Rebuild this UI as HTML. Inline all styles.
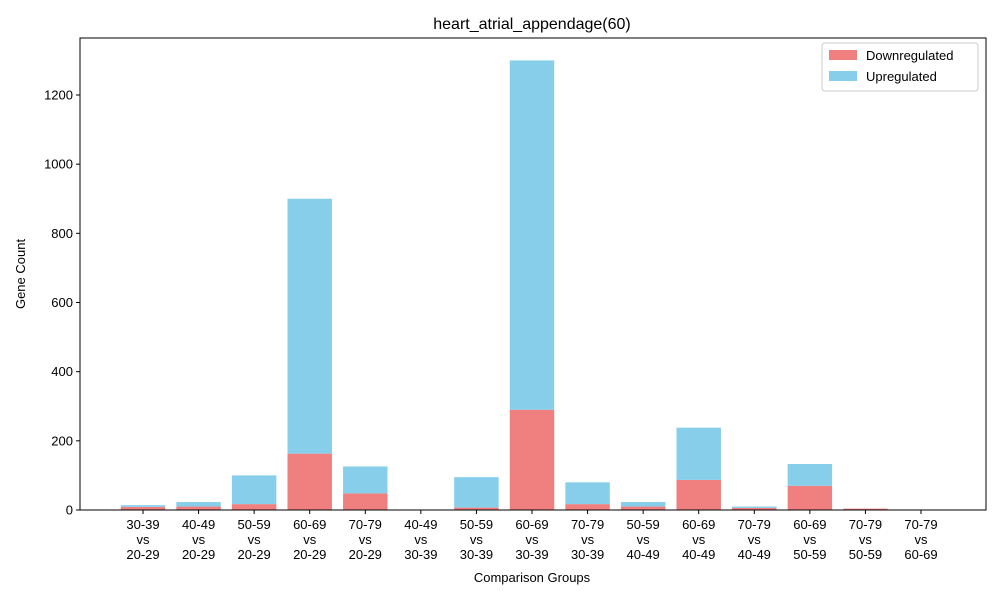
<!DOCTYPE html>
<html><head><meta charset="utf-8"><style>
body{margin:0;background:#fff}
svg{font-family:"Liberation Sans","DejaVu Sans",sans-serif}
</style></head><body>
<svg id="chart" width="1000" height="600">
<rect width="1000" height="600" fill="#fff"/>
<text x="532" y="29" font-size="16" text-anchor="middle">heart_atrial_appendage(60)</text>
<g id="bars"></g>
<g id="axes"></g>
<text x="532" y="582" font-size="13" text-anchor="middle">Comparison Groups</text>
<text x="25" y="274" font-size="13" text-anchor="middle" transform="rotate(-90 25 274)">Gene Count</text>
<g>
<rect x="822" y="43" width="156" height="48" fill="#fff" stroke="#ccc" rx="3"/>
<rect x="829" y="50" width="28" height="10" fill="#f08080"/>
<text x="866" y="60" font-size="13">Downregulated</text>
<rect x="829" y="71" width="28" height="10" fill="#87ceeb"/>
<text x="866" y="81" font-size="13">Upregulated</text>
</g>
</svg>
<script>
const categories=[["30-39","20-29"],["40-49","20-29"],["50-59","20-29"],["60-69","20-29"],["70-79","20-29"],["40-49","30-39"],["50-59","30-39"],["60-69","30-39"],["70-79","30-39"],["50-59","40-49"],["60-69","40-49"],["70-79","40-49"],["60-69","50-59"],["70-79","50-59"],["70-79","60-69"]];
const downValues=[9,10,17,163,48,0,7,290,17,10,87,6,70,4,0];
const upValues=[5,13,83,737,78,0,88,1010,63,13,151,4,63,0,0];
const yTicks=[0,200,400,600,800,1000,1200];
const NS="http://www.w3.org/2000/svg";
const L=80,R=986,T=38,B=510;
const n=categories.length;
const x0=143,x1=921;
const step=(x1-x0)/(n-1);
function xc(i){return x0+step*i;}
function y(v){return B-v*(415/1200);}
function mk(t,a,p){const e=document.createElementNS(NS,t);for(const k in a)e.setAttribute(k,a[k]);p.appendChild(e);return e;}
const bars=document.getElementById('bars'),axes=document.getElementById('axes');
const bw=step*0.8;
for(let i=0;i<n;i++){
  const d=downValues[i],u=upValues[i];
  const r1=mk('rect',{x:xc(i)-bw/2,y:y(d),width:bw,height:B-y(d),fill:'#f08080'},bars);
  
  
  const r2=mk('rect',{x:xc(i)-bw/2,y:y(d+u),width:bw,height:y(d)-y(d+u),fill:'#87ceeb'},bars);
  
  
  mk('line',{x1:xc(i),x2:xc(i),y1:B,y2:B+4,stroke:'#000'},axes);
  const lines=[categories[i][0],'vs',categories[i][1]];
  lines.forEach((s,j)=>{const t=mk('text',{x:xc(i),y:B+19+j*15,'font-size':13,'text-anchor':'middle'},axes);t.textContent=s;
    
    });
}
yTicks.forEach(v=>{
  mk('line',{x1:L-4,x2:L,y1:y(v),y2:y(v),stroke:'#000'},axes);
  const t=mk('text',{x:L-7,y:y(v)+4.5,'font-size':13,'text-anchor':'end'},axes);t.textContent=v;
  
  
});
const fr=mk('rect',{x:L,y:T,width:R-L,height:B-T,fill:'none',stroke:'#000','stroke-width':1},axes);


</script>
</body></html>
